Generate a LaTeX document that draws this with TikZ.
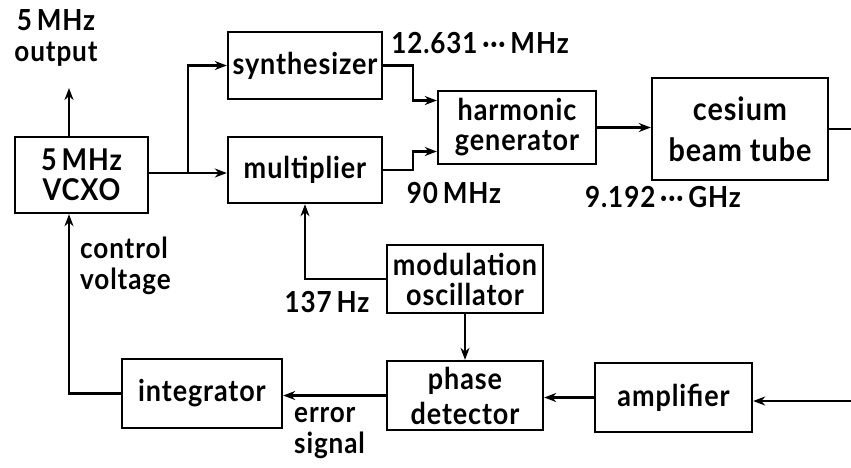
\documentclass[tikz,border=0pt]{standalone}
\usepackage{fontspec}
\setmainfont{Lato}
\newfontfamily\blkfont{Lato}[FakeStretch=0.9, LetterSpace=3]
\usetikzlibrary{arrows.meta}
\begin{document}
\begin{tikzpicture}[x=1pt, y=-1pt,
	blk/.style={draw, line width=2.4pt, align=center, inner sep=0pt, font=\blkfont\bfseries\fontsize{30}{30}\selectfont},
	lbl/.style={align=left, inner sep=0pt, font=\blkfont\bfseries\fontsize{29}{31}\selectfont},
	line width=2.4pt, >={Stealth[length=12pt, width=9pt]}]
			\useasboundingbox (0,0) rectangle (851,467);
			\node[blk, minimum width=133pt, minimum height=76pt] (vcxo) at (81.5,175) {5\,MHz\\VCXO};
			\node[blk, minimum width=154pt, minimum height=67pt] (synth) at (305,65.5) {synthesizer};
			\node[blk, minimum width=154pt, minimum height=66pt] (mult) at (305,170) {multiplier};
			\node[blk, minimum width=158pt, minimum height=73pt] (harm) at (517,127.5) {harmonic\\generator};
			\node[blk, minimum width=176pt, minimum height=102pt, font=\blkfont\bfseries\fontsize{32}{41}\selectfont] (tube) at (740,129) {cesium\\beam tube};
			\node[blk, minimum width=156pt, minimum height=68pt] (modosc) at (465,279) {modulation\\oscillator};
			\node[blk, minimum width=156pt, minimum height=69pt, font=\blkfont\bfseries\fontsize{30}{35}\selectfont] (phase) at (465,395.5) {phase\\detector};
			\node[blk, minimum width=160pt, minimum height=69pt] (integ) at (202,393.5) {integrator};
			\node[blk, minimum width=157pt, minimum height=69pt] (amp) at (673.5,397.5) {amplifier};
			\coordinate (out) at (69,88);
			\coordinate (split) at (188,173);
			\coordinate (tubeout) at (851,129);
			\coordinate (ampin) at (851,401);
			\draw[->] (out |- vcxo.north) -- (out);
			\draw[->] (vcxo.east |- split) -- (split -| mult.west);
			\draw[->] (split) |- (synth.west);
			\draw[->] (synth.east) -- ++(30,0) |- ([yshift=27pt]harm.west);
			\draw[->] (mult.east) -- ++(30,0) |- ([yshift=-24pt]harm.west);
			\draw[->] (harm.east) -- (harm.east -| tube.west);
			\draw (tube.east) -- (tubeout);
			\draw[->] (ampin) -- (ampin -| amp.east);
			\draw[->] (amp.west) -- (amp.west -| phase.east);
			\draw[->] (phase.west) -- (phase.west -| integ.east);
			\draw[->] (integ.west) -| (out |- vcxo.south);
			\draw[->] (modosc.west) -| (mult.south);
			\draw[->] (modosc.south) -- (phase.north);
			\node[lbl, align=center] (outlbl) at (56,38) {5\,MHz\\output};
			\node[lbl] (synthlbl) at (480,43) {12.631\,···\,MHz};
			\node[lbl] (multlbl) at (454,193) {90\,MHz};
			\node[lbl] (harmlbl) at (663,197) {9.192\,···\,GHz};
			\node[lbl, anchor=west] (ctrllbl) at (79,266) {control\\voltage};
			\node[lbl] (modlbl) at (327,302) {137\,Hz};
			\node[lbl, anchor=west] (errlbl) at (293,433) {error\\signal};
		\end{tikzpicture}
\end{document}
